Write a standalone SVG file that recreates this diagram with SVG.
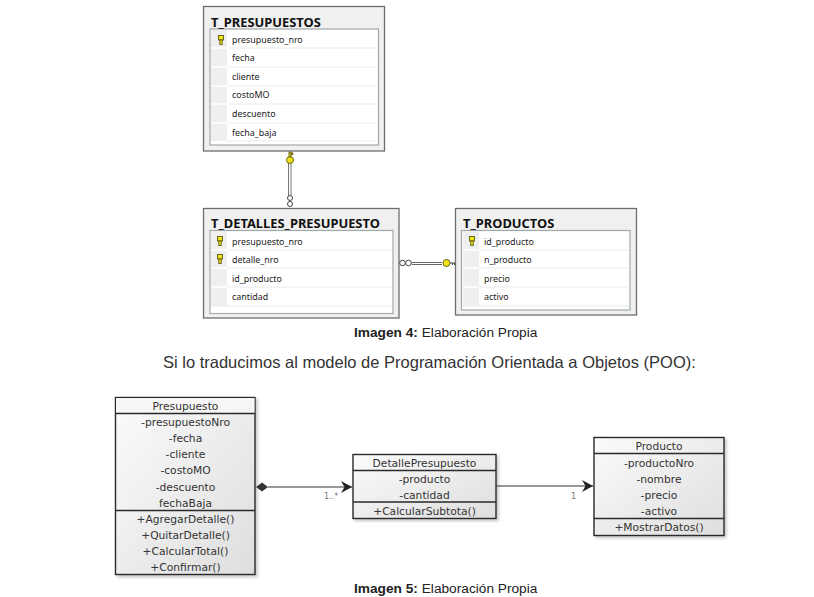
<svg xmlns="http://www.w3.org/2000/svg" width="814" height="597" viewBox="0 0 814 597">
<style>
.tbl{fill:#f0f0f0;stroke:#6e6e6e;stroke-width:1.3}
.inner{fill:#fff;stroke:#a0a8a8;stroke-width:1.2}
.gut{fill:#efefef}
.sep{stroke:#ebebeb;stroke-width:1}
.gsep{stroke:#fff;stroke-width:1.5}
.tt{font:bold 12.900px "Noto Sans",sans-serif;fill:#111}
.ft{font:8.900px "Noto Sans",sans-serif;fill:#222}
.cap{font:13.700px "Liberation Sans",Arial,sans-serif;fill:#222}
.capb{font-weight:bold}
.para{font:16.500px "Liberation Sans",Arial,sans-serif;fill:#333}
.uml{stroke:#2a2a2a;stroke-width:1.4}
.ut{font:10.700px "DejaVu Sans",sans-serif;fill:#333;text-anchor:middle}
.mult{font:8px "DejaVu Sans",sans-serif;fill:#777}
.line{fill:none;stroke:#333;stroke-width:1}
.key{fill:#f2e21a;stroke:#5a5a10;stroke-width:.9}
.ring{fill:#fff;stroke:#444;stroke-width:1}
</style>
<defs>
<linearGradient id="g" x1="0" y1="0" x2="1" y2="1"><stop offset="0" stop-color="#fbfbfb"/><stop offset="1" stop-color="#dedede"/></linearGradient>
<filter id="sh" x="-5%" y="-5%" width="112%" height="112%"><feDropShadow dx="2" dy="2" stdDeviation="1.500" flood-color="#000" flood-opacity=".22"/></filter>
<g id="k"><rect x="-2.500" y="-4.500" width="5" height="4.500" class="key"/><rect x="-1.200" y="0" width="2.400" height="4.500" class="key"/></g>
<marker id="open" markerWidth="13" markerHeight="13" refX="11" refY="6" orient="auto" markerUnits="userSpaceOnUse"><path d="M0 0L11 6L0 12L3.500 6Z" fill="#222"/></marker>
</defs>
<g id="T_PRESUPUESTOS">
<rect class="tbl" x="203.500" y="6.500" width="181" height="144.500"/>
<rect class="inner" x="210" y="29" width="168.500" height="116"/>
<rect class="gut" x="211" y="30" width="16" height="111"/>
<path class="sep" d="M227 48H378M227 67H378M227 86H378M227 104H378M227 123H378M227 141H378"/>
<path class="gsep" d="M211 48H227M211 67H227M211 86H227M211 104H227M211 123H227"/>
<text class="tt" x="211" y="26.500">T_PRESUPUESTOS</text>
<use href="#k" x="221" y="40"/>
<text class="ft" x="232" y="43">presupuesto_nro</text><text class="ft" x="232" y="61">fecha</text><text class="ft" x="232" y="80">cliente</text><text class="ft" x="232" y="98">costoMO</text><text class="ft" x="232" y="117">descuento</text><text class="ft" x="232" y="136">fecha_baja</text>
</g>
<g id="T_DETALLES_PRESUPUESTO">
<rect class="tbl" x="203.500" y="208.500" width="195.500" height="109.500"/>
<rect class="inner" x="210" y="230.500" width="183" height="83"/>
<rect class="gut" x="211" y="231" width="16" height="75"/>
<path class="sep" d="M227 250H392M227 268H392M227 287H392M211 306H392"/>
<path class="gsep" d="M211 250H227M211 268H227M211 287H227"/>
<text class="tt" x="211" y="228">T_DETALLES_PRESUPUESTO</text>
<use href="#k" x="220" y="241"/><use href="#k" x="220" y="259"/>
<text class="ft" x="232" y="245">presupuesto_nro</text><text class="ft" x="232" y="263">detalle_nro</text><text class="ft" x="232" y="282">id_producto</text><text class="ft" x="232" y="300">cantidad</text>
</g>
<g id="T_PRODUCTOS">
<rect class="tbl" x="455.500" y="208.500" width="181" height="106.500"/>
<rect class="inner" x="461.500" y="230.500" width="168.500" height="79.500"/>
<rect class="gut" x="463" y="231" width="16" height="75"/>
<path class="sep" d="M479 250H629M479 268H629M479 287H629M463 306H629"/>
<path class="gsep" d="M463 250H479M463 268H479M463 287H479"/>
<text class="tt" x="463" y="228">T_PRODUCTOS</text>
<use href="#k" x="472" y="241"/>
<text class="ft" x="484" y="245">id_producto</text><text class="ft" x="484" y="263">n_producto</text><text class="ft" x="484" y="282">precio</text><text class="ft" x="484" y="300">activo</text>
</g>
<g id="Presupuesto">
<rect x="115.500" y="397.500" width="139.500" height="177" fill="url(#g)" class="uml" filter="url(#sh)"/>
<rect x="116" y="398" width="138.500" height="15" fill="#f6f6f6"/>
<path class="uml" d="M115.500 413.500H255M115.500 510.500H255" fill="none"/>
<text class="ut" x="185.500" y="410">Presupuesto</text>
<text class="ut" x="185.500" y="426">-presupuestoNro</text><text class="ut" x="185.500" y="442">-fecha</text><text class="ut" x="185.500" y="458">-cliente</text><text class="ut" x="185.500" y="474">-costoMO</text><text class="ut" x="185.500" y="491">-descuento</text><text class="ut" x="185.500" y="507">fechaBaja</text>
<text class="ut" x="185.500" y="523">+AgregarDetalle()</text><text class="ut" x="185.500" y="539">+QuitarDetalle()</text><text class="ut" x="185.500" y="555">+CalcularTotal()</text><text class="ut" x="185.500" y="571">+Confirmar()</text>
</g>
<g id="DetallePresupuesto">
<rect x="353" y="454.500" width="143" height="64" fill="url(#g)" class="uml" filter="url(#sh)"/>
<path class="uml" d="M353 470.500H496M353 502H496" fill="none"/>
<text class="ut" x="424.500" y="467">DetallePresupuesto</text><text class="ut" x="424.500" y="483">-producto</text><text class="ut" x="424.500" y="499">-cantidad</text><text class="ut" x="424.500" y="515">+CalcularSubtota()</text>
</g>
<g id="Producto">
<rect x="594" y="437.500" width="130" height="98" fill="url(#g)" class="uml" filter="url(#sh)"/>
<path class="uml" d="M594 453.500H724M594 518.500H724" fill="none"/>
<text class="ut" x="659" y="450">Producto</text><text class="ut" x="659" y="467">-productoNro</text><text class="ut" x="659" y="483">-nombre</text><text class="ut" x="659" y="499">-precio</text><text class="ut" x="659" y="515">-activo</text><text class="ut" x="659" y="531">+MostrarDatos()</text>
</g>
<g id="connectors">
<path d="M288.500 160V196M291 160V196" stroke="#777" stroke-width="1" fill="none"/>
<circle class="key" cx="290" cy="160" r="3.500"/><path class="key" d="M289 152h2v5h-2zM291 153h2v1.500h-2z"/>
<circle class="ring" cx="290" cy="198" r="2.500"/><circle class="ring" cx="290" cy="204" r="2.500"/>
<path d="M412 262.500H442M412 264.500H442" stroke="#666" stroke-width="1" fill="none"/>
<circle class="ring" cx="402.500" cy="263" r="2.800"/><circle class="ring" cx="408.500" cy="263" r="2.800"/>
<circle class="key" cx="446.500" cy="263" r="3.500"/><path d="M450 263H455M452.500 263V265M454.500 263V265" stroke="#444" fill="none"/>
<path class="line" d="M268 487H352" marker-end="url(#open)"/>
<path d="M256 487L262 482.500L268 487L262 491.500Z" fill="#333"/>
<path class="line" d="M496 486H593" marker-end="url(#open)"/>
<text class="mult" x="324" y="499">1..*</text><text class="mult" x="571" y="499">1</text>
</g>
<g id="captions">
<text class="cap" x="354" y="337"><tspan class="capb">Imagen 4:</tspan> Elaboración Propia</text>
<text class="para" x="163" y="368">Si lo traducimos al modelo de Programación Orientada a Objetos (POO):</text>
<text class="cap" x="354" y="593"><tspan class="capb">Imagen 5:</tspan> Elaboración Propia</text>
</g>
</svg>
